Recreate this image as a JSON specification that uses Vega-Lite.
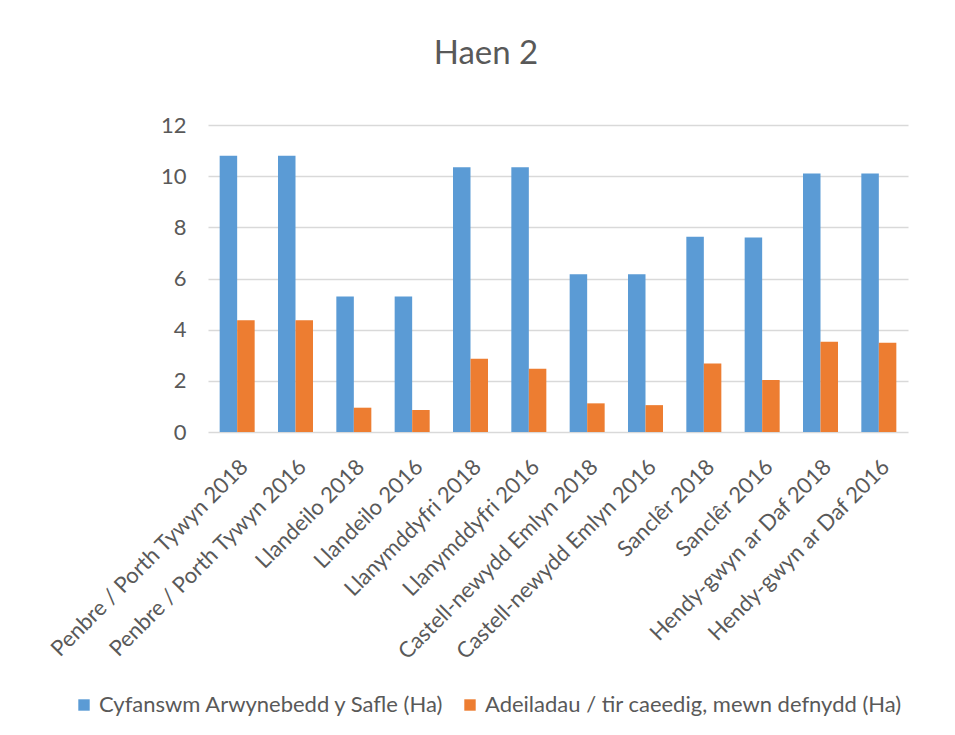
{
  "$schema": "https://vega.github.io/schema/vega-lite/v6.json",
  "autosize": {"type": "none"},
  "width": 700,
  "height": 307,
  "padding": {"left": 208, "top": 125, "right": 47, "bottom": 303},
  "background": "white",
  "title": {
    "text": "Haen 2",
    "font": "Lato",
    "fontSize": 33,
    "fontWeight": "normal",
    "color": "#595959",
    "baseline": "alphabetic",
    "offset": 17,
    "dx": -72
  },
  "data": {
    "values": [
      {"cat": "Penbre / Porth Tywyn 2018", "series": "Cyfanswm Arwynebedd y Safle (Ha)", "value": 10.8},
      {"cat": "Penbre / Porth Tywyn 2018", "series": "Adeiladau / tir caeedig, mewn defnydd (Ha)", "value": 4.37},
      {"cat": "Penbre / Porth Tywyn 2016", "series": "Cyfanswm Arwynebedd y Safle (Ha)", "value": 10.8},
      {"cat": "Penbre / Porth Tywyn 2016", "series": "Adeiladau / tir caeedig, mewn defnydd (Ha)", "value": 4.37},
      {"cat": "Llandeilo 2018", "series": "Cyfanswm Arwynebedd y Safle (Ha)", "value": 5.3},
      {"cat": "Llandeilo 2018", "series": "Adeiladau / tir caeedig, mewn defnydd (Ha)", "value": 0.95},
      {"cat": "Llandeilo 2016", "series": "Cyfanswm Arwynebedd y Safle (Ha)", "value": 5.3},
      {"cat": "Llandeilo 2016", "series": "Adeiladau / tir caeedig, mewn defnydd (Ha)", "value": 0.86},
      {"cat": "Llanymddyfri 2018", "series": "Cyfanswm Arwynebedd y Safle (Ha)", "value": 10.35},
      {"cat": "Llanymddyfri 2018", "series": "Adeiladau / tir caeedig, mewn defnydd (Ha)", "value": 2.86},
      {"cat": "Llanymddyfri 2016", "series": "Cyfanswm Arwynebedd y Safle (Ha)", "value": 10.35},
      {"cat": "Llanymddyfri 2016", "series": "Adeiladau / tir caeedig, mewn defnydd (Ha)", "value": 2.47},
      {"cat": "Castell-newydd Emlyn 2018", "series": "Cyfanswm Arwynebedd y Safle (Ha)", "value": 6.17},
      {"cat": "Castell-newydd Emlyn 2018", "series": "Adeiladau / tir caeedig, mewn defnydd (Ha)", "value": 1.12},
      {"cat": "Castell-newydd Emlyn 2016", "series": "Cyfanswm Arwynebedd y Safle (Ha)", "value": 6.17},
      {"cat": "Castell-newydd Emlyn 2016", "series": "Adeiladau / tir caeedig, mewn defnydd (Ha)", "value": 1.05},
      {"cat": "Sanclêr 2018", "series": "Cyfanswm Arwynebedd y Safle (Ha)", "value": 7.63},
      {"cat": "Sanclêr 2018", "series": "Adeiladau / tir caeedig, mewn defnydd (Ha)", "value": 2.68},
      {"cat": "Sanclêr 2016", "series": "Cyfanswm Arwynebedd y Safle (Ha)", "value": 7.6},
      {"cat": "Sanclêr 2016", "series": "Adeiladau / tir caeedig, mewn defnydd (Ha)", "value": 2.03},
      {"cat": "Hendy-gwyn ar Daf 2018", "series": "Cyfanswm Arwynebedd y Safle (Ha)", "value": 10.1},
      {"cat": "Hendy-gwyn ar Daf 2018", "series": "Adeiladau / tir caeedig, mewn defnydd (Ha)", "value": 3.53},
      {"cat": "Hendy-gwyn ar Daf 2016", "series": "Cyfanswm Arwynebedd y Safle (Ha)", "value": 10.1},
      {"cat": "Hendy-gwyn ar Daf 2016", "series": "Adeiladau / tir caeedig, mewn defnydd (Ha)", "value": 3.49}
    ]
  },
  "mark": {"type": "bar"},
  "encoding": {
    "x": {
      "field": "cat",
      "type": "nominal",
      "sort": null,
      "title": null,
      "scale": {"paddingInner": 0.4, "paddingOuter": 0.2},
      "axis": {
        "labelAngle": -45,
        "labelFont": "Lato",
        "labelFontSize": 22,
        "labelColor": "#595959",
        "labelPadding": 24,
        "ticks": false,
        "domain": false,
        "labelLimit": 500
      }
    },
    "xOffset": {
      "field": "series",
      "type": "nominal",
      "sort": ["Cyfanswm Arwynebedd y Safle (Ha)", "Adeiladau / tir caeedig, mewn defnydd (Ha)"]
    },
    "y": {
      "field": "value",
      "type": "quantitative",
      "title": null,
      "scale": {"domain": [0, 12]},
      "axis": {
        "values": [0, 2, 4, 6, 8, 10, 12],
        "labelFont": "Lato",
        "labelFontSize": 22,
        "labelColor": "#595959",
        "labelPadding": 22,
        "ticks": false,
        "domain": false,
        "gridColor": "#d9d9d9",
        "gridWidth": 1.5
      }
    },
    "color": {
      "field": "series",
      "type": "nominal",
      "sort": ["Cyfanswm Arwynebedd y Safle (Ha)", "Adeiladau / tir caeedig, mewn defnydd (Ha)"],
      "scale": {
        "domain": ["Cyfanswm Arwynebedd y Safle (Ha)", "Adeiladau / tir caeedig, mewn defnydd (Ha)"],
        "range": ["#5B9BD5", "#ED7D31"]
      },
      "legend": {
        "title": null,
        "orient": "none",
        "direction": "horizontal",
        "legendX": -135,
        "legendY": 569,
        "symbolType": "square",
        "symbolSize": 130,
        "symbolStrokeWidth": 0,
        "symbolOpacity": 1,
        "labelFont": "Lato",
        "labelFontSize": 22,
        "labelColor": "#595959",
        "labelLimit": 600,
        "columnPadding": 14,
        "labelOffset": 4
      }
    }
  },
  "config": {
    "view": {"stroke": null}
  }
}
